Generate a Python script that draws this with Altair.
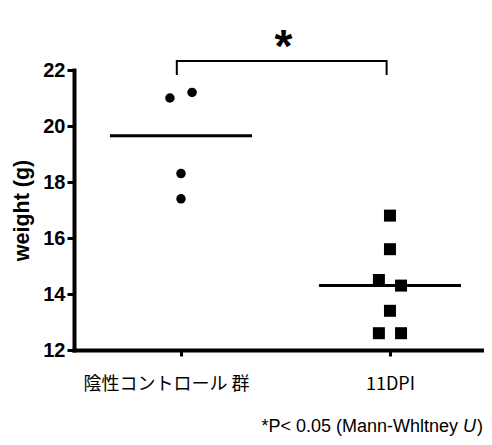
import altair as alt
import pandas as pd

# ---- data ----
groups = ["陰性コントロール 群", "11DPI"]
group_pos = [1, 2]
control_weights = [21.0, 21.2, 18.3, 17.4]
control_slots = [-1, 1, 0, 0]
dpi_weights = [16.8, 15.6, 14.5, 14.3, 13.4, 12.6, 12.6]
dpi_slots = [0, 0, -1, 1, 0, -1, 1]
medians = [19.65, 14.3]
y_ticks = [12, 14, 16, 18, 20, 22]
bracket_x = [0.98, 0.98, 1.984, 1.984]
bracket_y = [21.82, 22.32, 22.32, 21.82]
star_label = "*"
footnote_main = "*P< 0.05 (Mann-Whltney"
footnote_italic = "U"
footnote_end = ")"

JIT = 0.053
HALF = 0.34

ctrl = pd.DataFrame({"pos": group_pos[0], "weight": control_weights, "slot": control_slots})
dpi = pd.DataFrame({"pos": group_pos[1], "weight": dpi_weights, "slot": dpi_slots})
med = pd.DataFrame({"pos": group_pos, "median": medians})
br = pd.DataFrame({"bx": bracket_x, "by": bracket_y, "order": [0, 1, 2, 3]})
star = pd.DataFrame({"sx": [1.49], "sy": [22.27], "label": [star_label]})

xscale = alt.Scale(domain=[0.488, 2.45], nice=False, zero=False)
yscale = alt.Scale(domain=[12, 22], nice=False, zero=False)

label_expr = "datum.value == 1 ? '%s' : '%s'" % (groups[0], groups[1])

x_axis = alt.Axis(
    values=group_pos, labelExpr=label_expr, grid=False,
    labelFont="Noto Sans CJK JP", labelFontSize=18, labelFontWeight="normal",
    labelColor="black", labelPadding=19, tickSize=6, tickWidth=3, tickColor="black",
    domainColor="black", domainWidth=4, domainCap="square", labelFlush=False,
    labelOffset={"condition": {"test": "datum.value == 1", "value": -15}, "value": 0},
)
y_axis = alt.Axis(
    values=y_ticks, grid=False, format="d",
    labelFont="Liberation Sans", labelFontSize=20, labelFontWeight="bold",
    labelColor="black", labelPadding=2, tickSize=7, tickWidth=3, tickColor="black",
    domainColor="black", domainWidth=4, domainCap="square",
    title="weight (g)", titleFont="Liberation Sans", titleFontSize=21.5,
    titleFontWeight="bold", titleColor="black", titlePadding=9,
)

circles = alt.Chart(ctrl).transform_calculate(
    xj="datum.pos + datum.slot * %f" % JIT
).mark_circle(size=90, color="black", opacity=1, clip=False).encode(
    x=alt.X("xj:Q", scale=xscale, axis=x_axis, title=None),
    y=alt.Y("weight:Q", scale=yscale, axis=y_axis),
)

squares = alt.Chart(dpi).transform_calculate(
    xj="datum.pos + datum.slot * %f" % JIT
).mark_square(size=144, color="black", opacity=1, clip=False).encode(
    x=alt.X("xj:Q", scale=xscale),
    y=alt.Y("weight:Q", scale=yscale),
)

medlines = alt.Chart(med).transform_calculate(
    x1="datum.pos - %f" % HALF, x2="datum.pos + %f" % HALF
).mark_rule(color="black", strokeWidth=3, clip=False).encode(
    x=alt.X("x1:Q", scale=xscale),
    x2="x2:Q",
    y=alt.Y("median:Q", scale=yscale),
)

bracket = alt.Chart(br).mark_line(color="black", strokeWidth=2, clip=False).encode(
    x=alt.X("bx:Q", scale=xscale),
    y=alt.Y("by:Q", scale=yscale),
    order="order:Q",
)

star_mark = alt.Chart(star).mark_text(
    fontSize=46, fontWeight="bold", font="Liberation Sans", color="black",
    baseline="alphabetic", align="center", clip=False,
).encode(
    x=alt.X("sx:Q", scale=xscale),
    y=alt.Y("sy:Q", scale=yscale),
    text="label:N",
)

fs = 18
note_y = 362
right_x = 409
u_right = right_x - fs * 0.333 - 1
main_right = u_right - fs * 0.722 - fs * 0.278
note_main = alt.Chart(pd.DataFrame({"t": [footnote_main]})).mark_text(
    font="Liberation Sans", fontSize=fs, color="black", align="right", baseline="alphabetic"
).encode(x=alt.value(main_right), y=alt.value(note_y), text="t:N")
note_u = alt.Chart(pd.DataFrame({"t": [footnote_italic]})).mark_text(
    font="Liberation Sans", fontSize=fs, fontStyle="italic", color="black",
    align="right", baseline="alphabetic"
).encode(x=alt.value(u_right), y=alt.value(note_y), text="t:N")
note_end = alt.Chart(pd.DataFrame({"t": [footnote_end]})).mark_text(
    font="Liberation Sans", fontSize=fs, color="black", align="right", baseline="alphabetic"
).encode(x=alt.value(right_x), y=alt.value(note_y), text="t:N")

chart = alt.layer(
    medlines, bracket, circles, squares, star_mark, note_main, note_u, note_end
).properties(
    width=410, height=280,
    autosize=alt.AutoSizeParams(type="none"),
    padding={"left": 66, "top": 62, "right": 0, "bottom": 87},
    background="white",
).configure_view(stroke=None)

chart.save("out.html", embed_options={"renderer": "svg", "actions": False})
